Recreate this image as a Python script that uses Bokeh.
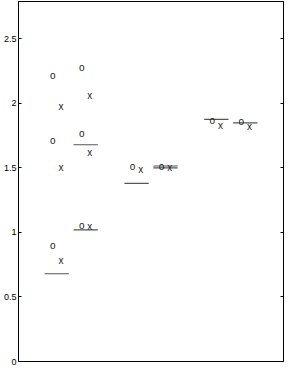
from bokeh.plotting import figure
from bokeh.models import LinearAxis, FixedTicker, Range1d, ColumnDataSource
from bokeh.core.properties import value
from bokeh.embed import file_html
from bokeh.resources import INLINE

# groups: pairs at centres 1, 2, 3; each pair has a left (-) and right (+) member
group_pos = [1, 1, 2, 2, 3, 3]
group_side = [-1, 1, -1, 1, -1, 1]

# "o" points per group
o_group = [0, 0, 0, 1, 1, 1, 2, 3, 4, 5]
o_vals = [2.22, 1.71, 0.90, 2.28, 1.77, 1.056, 1.51, 1.51, 1.865, 1.86]
# "x" points per group
x_group = [0, 0, 0, 1, 1, 1, 2, 3, 4, 5]
x_vals = [1.98, 1.50, 0.78, 2.06, 1.62, 1.043, 1.49, 1.50, 1.83, 1.82]
# horizontal bars per group
bar_group = [0, 1, 1, 2, 3, 3, 4, 5]
bar_vals = [0.68, 1.68, 1.02, 1.38, 1.515, 1.50, 1.877, 1.85]

y_ticks = [0, 0.5, 1, 1.5, 2, 2.5]
y_tick_labels = ["0", "0.5", "1", "1.5", "2", "2.5"]

pair_off = 0.181
bar_half = 0.152
o_off = -0.05
x_off = 0.052

def gx(g):
    return group_pos[g] + group_side[g] * pair_off

FONT = "Liberation Sans"

p = figure(width=284, height=366, output_backend="svg", toolbar_location=None,
           x_axis_location=None,
           x_range=Range1d(0.339, 3.66), y_range=Range1d(0, 2.79),
           min_border_left=2, min_border_right=1, min_border_top=1, min_border_bottom=5)
p.xgrid.visible = False
p.ygrid.visible = False
p.outline_line_color = "black"
p.outline_line_width = 1
p.background_fill_color = "white"
p.border_fill_color = "white"

ax = p.yaxis[0]
ax.ticker = FixedTicker(ticks=y_ticks)
ax.major_label_overrides = {t: l for t, l in zip(y_ticks, y_tick_labels)}
ax.major_tick_in = 3
ax.major_tick_out = 0
ax.minor_tick_in = 0
ax.minor_tick_out = 0
ax.major_label_standoff = 2
ax.major_label_text_font = FONT
ax.major_label_text_font_size = "9px"
ax.major_label_text_color = "black"
ax.axis_line_color = "black"
ax.major_tick_line_color = "black"

rax = LinearAxis(ticker=FixedTicker(ticks=y_ticks))
rax.major_label_overrides = {t: "" for t in y_ticks}
rax.major_label_standoff = 0
rax.major_tick_in = 3
rax.major_tick_out = 0
rax.minor_tick_in = 0
rax.minor_tick_out = 0
rax.axis_line_color = "black"
rax.major_tick_line_color = "black"
p.add_layout(rax, "right")

bx0 = [gx(g) - bar_half for g in bar_group]
bx1 = [gx(g) + bar_half for g in bar_group]
p.segment(x0=bx0, x1=bx1, y0=bar_vals, y1=bar_vals, line_color="#555555", line_width=1.2)

osrc = ColumnDataSource(dict(x=[gx(g) + o_off for g in o_group], y=o_vals, t=["o"] * len(o_vals)))
xsrc = ColumnDataSource(dict(x=[gx(g) + x_off for g in x_group], y=x_vals, t=["x"] * len(x_vals)))
for src in (osrc, xsrc):
    p.text(x="x", y="y", text="t", source=src, text_align="center", text_baseline="middle",
           text_font=value(FONT), text_font_size="10px", text_color="#222222")

open("out.html", "w").write(file_html(p, INLINE))
